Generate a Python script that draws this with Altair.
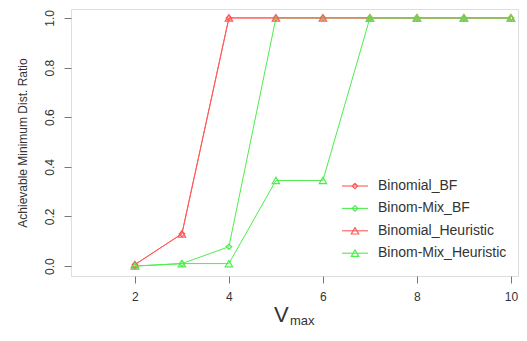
import altair as alt
import pandas as pd

# ---- data ----
x_vals = [2, 3, 4, 5, 6, 7, 8, 9, 10]
binomial_bf = [0.006, 0.13, 1.0, 1.0, 1.0, 1.0, 1.0, 1.0, 1.0]
binommix_bf = [0.0, 0.01, 0.078, 1.0, 1.0, 1.0, 1.0, 1.0, 1.0]
binomial_heur = [0.006, 0.13, 1.0, 1.0, 1.0, 1.0, 1.0, 1.0, 1.0]
binommix_heur = [0.0, 0.01, 0.01, 0.345, 0.345, 1.0, 1.0, 1.0, 1.0]

series_names = ["Binomial_BF", "Binom-Mix_BF", "Binomial_Heuristic", "Binom-Mix_Heuristic"]
series_values = [binomial_bf, binommix_bf, binomial_heur, binommix_heur]
series_colors = ["#ff5a5a", "#4ded4d", "#ff5a5a", "#4ded4d"]
series_shapes = ["diamond", "diamond", "triangle-up", "triangle-up"]
series_sizes = [30, 30, 55, 55]

x_ticks = [2, 4, 6, 8, 10]
y_ticks = [0.0, 0.2, 0.4, 0.6, 0.8, 1.0]

rows = []
for name, vals in zip(series_names, series_values):
    for xv, yv in zip(x_vals, vals):
        rows.append({"series": name, "x": xv, "y": yv})
df = pd.DataFrame(rows)
one = pd.DataFrame({"k": [0]})

W, H = 447, 267
FONT = "Liberation Sans"
TXT = "#333333"

xscale = alt.Scale(domain=[0.64, 0.64 + W / 47.0], nice=False, zero=False)
yscale = alt.Scale(domain=[-0.04, 1.036], nice=False, zero=False)

xenc = alt.X("x:Q", scale=xscale,
             axis=alt.Axis(values=x_ticks, title=None, domain=False, grid=False,
                           tickSize=7, tickColor="#777777", labelFontSize=12,
                           labelFont=FONT, labelColor=TXT, labelPadding=8,
                           labelFlush=False))
yenc = alt.Y("y:Q", scale=yscale,
             axis=alt.Axis(values=y_ticks, format=".1f", title="Achievable Minimum Dist. Ratio",
                           domain=False, grid=False, tickSize=7, tickColor="#777777",
                           labelFontSize=12, labelFont=FONT, labelColor=TXT,
                           labelAngle=-90, labelAlign="center", labelBaseline="alphabetic",
                           labelPadding=11, labelFlush=False,
                           titleFont=FONT, titleFontSize=12, titleFontWeight="normal",
                           titleColor=TXT, titleAngle=-90, titleX=-45, titleY=H / 2,
                           titleAlign="center", titleBaseline="alphabetic"))

base = alt.Chart(df)
layers = []
for i, name in enumerate(series_names):
    sub = base.transform_filter(alt.datum.series == name)
    layers.append(sub.mark_line(color=series_colors[i], strokeWidth=1.0).encode(x=xenc, y=yenc))
    layers.append(sub.mark_point(shape=series_shapes[i], stroke=series_colors[i], fill="white",
                                 fillOpacity=0, filled=False,
                                 size=series_sizes[i], strokeWidth=1.2, opacity=1)
                  .encode(x=xenc, y=yenc))

# ---- manual legend (lower right, inside the plot) ----
leg_y0, leg_dy = 177, 22.4
for i, name in enumerate(series_names):
    yy = leg_y0 + leg_dy * i
    layers.append(alt.Chart(one).mark_rule(color=series_colors[i], strokeWidth=1.1).encode(
        x=alt.value(271), x2=alt.value(297), y=alt.value(yy)))
    layers.append(alt.Chart(one).mark_point(shape=series_shapes[i], stroke=series_colors[i],
                                            fill="white", fillOpacity=0, filled=False,
                                            size=series_sizes[i], strokeWidth=1.2,
                                            opacity=1).encode(
        x=alt.value(284), y=alt.value(yy)))
    layers.append(alt.Chart(one).mark_text(text=name, align="left", baseline="middle",
                                           font=FONT, fontSize=14, fontWeight="normal",
                                           color=TXT).encode(
        x=alt.value(307), y=alt.value(yy)))

# ---- x axis title V_max ----
layers.append(alt.Chart(one).mark_text(text="V", align="left", baseline="alphabetic",
                                       font=FONT, fontSize=22, fontWeight="normal",
                                       color=TXT).encode(
    x=alt.value(203), y=alt.value(H + 46)))
layers.append(alt.Chart(one).mark_text(text="max", align="left", baseline="alphabetic",
                                       font=FONT, fontSize=13, fontWeight="normal",
                                       color=TXT).encode(
    x=alt.value(219), y=alt.value(H + 49)))

chart = alt.layer(*layers).properties(
    width=W, height=H,
    autosize=alt.AutoSizeParams(type="none"),
    padding={"left": 63, "top": 1, "right": 1, "bottom": 52},
).configure_view(stroke="#666666", strokeWidth=1.2).configure(background="white")

chart.save("out.html", embed_options={"renderer": "svg", "actions": False})
